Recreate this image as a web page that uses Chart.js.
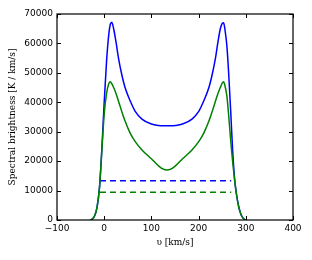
<!DOCTYPE html>
<html>
<head>
<meta charset="utf-8">
<script src="https://cdn.jsdelivr.net/npm/chart.js@4/dist/chart.umd.min.js"></script>
<style>
  html, body { margin: 0; padding: 0; background: #fff; }
  #wrap { width: 312px; height: 260px; }
</style>
</head>
<body>
<div id="wrap"><canvas id="myChart"></canvas></div>
<script>
// velocity grid [km/s]
const velocity = [-30, -25, -20, -15, -10, -5, 0, 5, 10, 13, 16, 20, 25, 30, 37, 44, 55, 65, 80, 100,
  115, 125, 133, 141, 151, 166, 186, 201, 211, 222, 229, 236, 241, 246, 250, 253, 256, 260, 264,
  268, 272, 276, 280, 285, 290, 295, 300];

// spectral brightness [K / km/s]
const blueLine = [0, 300, 1500, 4500, 11000, 24000, 40000, 54000, 63500, 66500, 67200, 65000, 60500,
  55300, 49600, 45100, 40500, 37100, 34300, 32600, 32100, 32000, 32000, 32000, 32100, 32600, 34300,
  37100, 40500, 45100, 49600, 55300, 60500, 65000, 66800, 67000, 64500, 59000, 49000, 37000, 24000,
  14500, 9000, 4500, 1800, 500, 0];
const greenLine = [0, 300, 1500, 4500, 11000, 23500, 36000, 43000, 46500, 47000, 46300, 45000, 43000,
  40500, 37000, 33700, 29500, 26800, 23800, 20800, 18400, 17300, 17000, 17300, 18400, 20800, 23800,
  26800, 29500, 33700, 37000, 40500, 43000, 45000, 46500, 47000, 45500, 42000, 35000, 27000, 20000,
  14000, 9000, 4500, 1800, 500, 0];

// dashed levels
const dashRange = [-9, 269];
const blueDash = 13350;
const greenDash = 9400;

const xTicks = [-100, 0, 100, 200, 300, 400];
const yTicks = [0, 10000, 20000, 30000, 40000, 50000, 60000, 70000];

const pts = (ys) => velocity.map((v, i) => ({ x: v, y: ys[i] }));
const flat = (y) => dashRange.map(v => ({ x: v, y: y }));

// frame with inward ticks on all four sides, like matplotlib
const frameTicks = {
  id: 'frameTicks',
  afterDraw(chart) {
    const { ctx, chartArea: a, scales } = chart;
    const len = 4;
    ctx.save();
    ctx.strokeStyle = '#000';
    ctx.lineWidth = 1;
    ctx.beginPath();
    xTicks.forEach(t => {
      const px = Math.round(scales.x.getPixelForValue(t)) + 0.5;
      ctx.moveTo(px, a.bottom); ctx.lineTo(px, a.bottom - len);
      ctx.moveTo(px, a.top); ctx.lineTo(px, a.top + len);
    });
    yTicks.forEach(t => {
      const py = Math.round(scales.y.getPixelForValue(t)) + 0.5;
      ctx.moveTo(a.left, py); ctx.lineTo(a.left + len, py);
      ctx.moveTo(a.right, py); ctx.lineTo(a.right - len, py);
    });
    ctx.stroke();
    ctx.lineWidth = 1.2;
    ctx.strokeRect(a.left, a.top, a.right - a.left, a.bottom - a.top);
    ctx.restore();
  }
};

const tickFont = { family: 'DejaVu Sans', size: 9 };
const titleFont = { family: 'DejaVu Serif', size: 9 };

new Chart(document.getElementById('myChart'), {
  type: 'line',
  data: {
    datasets: [
      { data: pts(greenLine), borderColor: '#008000', borderWidth: 1.5, order: 1 },
      { data: pts(blueLine), borderColor: '#0000ff', borderWidth: 1.5, order: 2 },
      { data: flat(greenDash), borderColor: '#008000', borderWidth: 1.5, borderDash: [6, 4], order: 3 },
      { data: flat(blueDash), borderColor: '#0000ff', borderWidth: 1.5, borderDash: [6, 4], order: 4 }
    ]
  },
  options: {
    responsive: true,
    maintainAspectRatio: false,
    animation: false,
    events: [],
    elements: {
      point: { radius: 0 },
      line: { cubicInterpolationMode: 'monotone', fill: false }
    },
    layout: { padding: { left: 0, top: 14, right: 19, bottom: 0 } },
    plugins: { legend: { display: false }, tooltip: { enabled: false } },
    scales: {
      x: {
        type: 'linear',
        min: -100,
        max: 400,
        afterFit: s => { s.height = 40; },
        afterBuildTicks: s => { s.ticks = xTicks.map(v => ({ value: v })); },
        grid: { display: false, drawTicks: false },
        border: { display: false },
        ticks: {
          color: '#000', font: tickFont, padding: 3, maxRotation: 0,
          callback: v => String(v).replace('-', '\u2212')
        },
        title: { display: true, text: '\u03c5 [km/s]', color: '#000', font: titleFont, padding: { top: 12, bottom: 12 } }
      },
      y: {
        min: 0,
        max: 70000,
        afterFit: s => { s.width = 57; },
        afterBuildTicks: s => { s.ticks = yTicks.map(v => ({ value: v })); },
        grid: { display: false, drawTicks: false },
        border: { display: false },
        ticks: { color: '#000', font: tickFont, padding: 4, callback: v => String(v) },
        title: { display: true, text: 'Spectral brightness [K / km/s]', color: '#000', font: titleFont, padding: { top: 7, bottom: 7 } }
      }
    }
  },
  plugins: [frameTicks]
});
</script>
</body>
</html>
